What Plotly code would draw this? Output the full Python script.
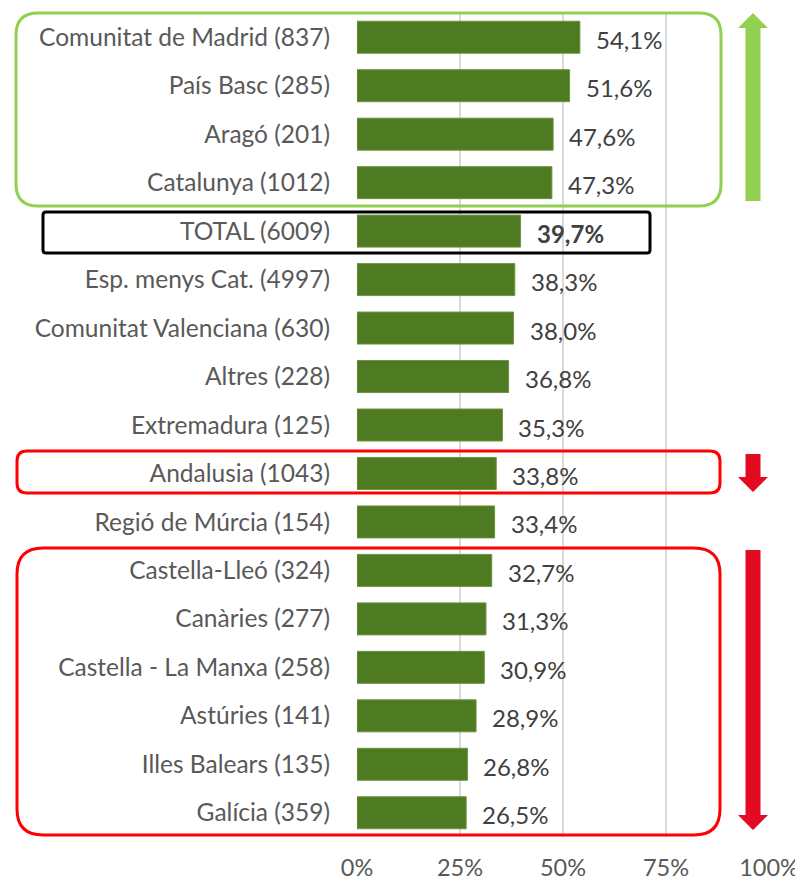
import plotly.graph_objects as go

categories = [
    "Comunitat de Madrid (837)", "País Basc (285)", "Aragó (201)", "Catalunya (1012)",
    "TOTAL (6009)", "Esp. menys Cat. (4997)", "Comunitat Valenciana (630)", "Altres (228)",
    "Extremadura (125)", "Andalusia (1043)", "Regió de Múrcia (154)", "Castella-Lleó (324)",
    "Canàries (277)", "Castella - La Manxa (258)", "Astúries (141)", "Illes Balears (135)",
    "Galícia (359)",
]
values = [54.1, 51.6, 47.6, 47.3, 39.7, 38.3, 38.0, 36.8, 35.3, 33.8, 33.4, 32.7, 31.3, 30.9, 28.9, 26.8, 26.5]
tick_vals = [0, 25, 50, 75, 100]
tick_text = ["0%", "25%", "50%", "75%", "100%"]

# page body has an 8px margin; figure is sized/positioned to compensate
OFF = 8
W, H = 803 - OFF, 882 - OFF
L, R, T, B = 357 - OFF, 34, 13 - OFF, 45
PW, PH = W - L - R, H - T - B

FONT = "Lato"
GREY = "#595959"

fig = go.Figure()
fig.add_trace(go.Bar(
    x=values, y=categories, orientation="h",
    marker=dict(color="#4E7A21", line=dict(color="#6E9440", width=1)),
    width=0.66, hoverinfo="skip",
))

annotations = []
for c, v in zip(categories, values):
    txt = f"{v:.1f}%".replace(".", ",")
    if c.startswith("TOTAL"):
        txt = f"<b>{txt}</b>"
    annotations.append(dict(x=v, y=c, xref="x", yref="y", text=txt, showarrow=False,
                            xanchor="left", xshift=14, yshift=-2,
                            font=dict(family=FONT, size=24, color="#404040")))


def px(x):
    # reference-page pixel -> paper coordinate
    return (x - OFF - L) / PW


def py(y):
    return (H - B - (y - OFF)) / PH


def rrect(x0, y0, x1, y1, r):
    pts = [
        f"M {px(x0 + r)},{py(y0)}",
        f"L {px(x1 - r)},{py(y0)}",
        f"Q {px(x1)},{py(y0)} {px(x1)},{py(y0 + r)}",
        f"L {px(x1)},{py(y1 - r)}",
        f"Q {px(x1)},{py(y1)} {px(x1 - r)},{py(y1)}",
        f"L {px(x0 + r)},{py(y1)}",
        f"Q {px(x0)},{py(y1)} {px(x0)},{py(y1 - r)}",
        f"L {px(x0)},{py(y0 + r)}",
        f"Q {px(x0)},{py(y0)} {px(x0 + r)},{py(y0)}",
        "Z",
    ]
    return " ".join(pts)


def arrow(xc, y_tail, y_base, y_tip, shaft_hw, head_hw):
    pts = [
        f"M {px(xc - shaft_hw)},{py(y_tail)}",
        f"L {px(xc - shaft_hw)},{py(y_base)}",
        f"L {px(xc - head_hw)},{py(y_base)}",
        f"L {px(xc)},{py(y_tip)}",
        f"L {px(xc + head_hw)},{py(y_base)}",
        f"L {px(xc + shaft_hw)},{py(y_base)}",
        f"L {px(xc + shaft_hw)},{py(y_tail)}",
        "Z",
    ]
    return " ".join(pts)


shapes = [
    dict(type="path", xref="paper", yref="paper", path=rrect(16, 13, 721, 206, 22),
         line=dict(color="#92D050", width=3)),
    dict(type="path", xref="paper", yref="paper", path=rrect(43, 212, 650, 253, 3),
         line=dict(color="#000000", width=3)),
    dict(type="path", xref="paper", yref="paper", path=rrect(17, 451, 720, 493, 10),
         line=dict(color="#FF0000", width=3)),
    dict(type="path", xref="paper", yref="paper", path=rrect(17, 548, 720, 835, 26),
         line=dict(color="#FF0000", width=3)),
    dict(type="path", xref="paper", yref="paper", path=arrow(753, 201, 28, 13, 7.5, 15),
         fillcolor="#92D050", line=dict(width=0)),
    dict(type="path", xref="paper", yref="paper", path=arrow(753, 454, 477, 492, 7.5, 15),
         fillcolor="#E30B22", line=dict(width=0)),
    dict(type="path", xref="paper", yref="paper", path=arrow(753, 550, 815, 830, 7.5, 15),
         fillcolor="#E30B22", line=dict(width=0)),
]

fig.update_layout(
    width=W, height=H,
    margin=dict(l=L, r=R, t=T, b=B, autoexpand=False),
    plot_bgcolor="white", paper_bgcolor="white",
    showlegend=False,
    annotations=annotations,
    shapes=shapes,
    xaxis=dict(range=[0, 100], tickvals=tick_vals, ticktext=tick_text,
               showgrid=True, gridcolor="#D9D9D9", gridwidth=1.5, zeroline=False,
               showline=False, ticks="", ticklabelstandoff=14,
               tickfont=dict(family=FONT, size=23.5, color=GREY), fixedrange=True),
    yaxis=dict(categoryorder="array", categoryarray=categories, autorange="reversed",
               showgrid=False, zeroline=False, showline=False, ticks="",
               ticklabelstandoff=26,
               tickfont=dict(family=FONT, size=24.5, color=GREY), fixedrange=True),
    bargap=0.34,
)

fig.write_html("out.html")
